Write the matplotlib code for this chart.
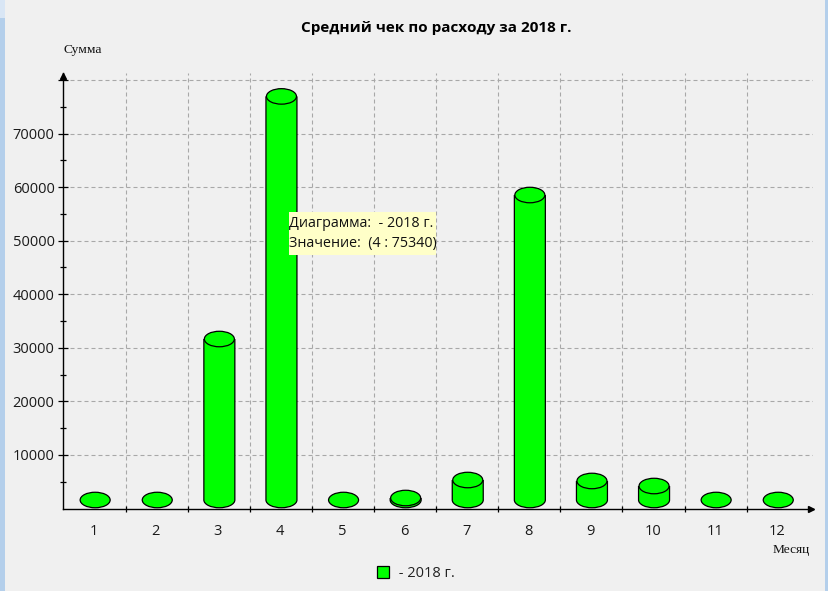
import matplotlib
matplotlib.use("Agg")
import matplotlib.pyplot as plt
from matplotlib.patches import Arc, Ellipse, Rectangle, Patch

W, H = 829, 591
months = [1, 2, 3, 4, 5, 6, 7, 8, 9, 10, 11, 12]
values = [0, 0, 30050, 75340, 0, 370, 3730, 56930, 3550, 2610, 0, 0]
series_name = " - 2018 г."
title = "Средний чек по расходу за 2018 г."
ylabel = "Сумма"
xlabel = "Месяц"
tooltip = "Диаграмма:  - 2018 г.\nЗначение:  (4 : 75340)"
yticks_major = [10000, 20000, 30000, 40000, 50000, 60000, 70000, 80000]
yticks_minor = [5000, 15000, 25000, 35000, 45000, 55000, 65000, 75000]

GREEN = "#00ff00"
BG = "#f0f0f0"
plt.rcParams["font.family"] = ["Open Sans", "DejaVu Sans"]

fig = plt.figure(figsize=(W / 100, H / 100), dpi=100, facecolor=BG)
def fx(p): return p / W
def fy(p): return 1 - p / H

# window edges
for x0, x1, y0, y1, c in [(0, 5, 0, H, "#b4cfeb"), (0, 5, 0, 18, "#d9e6f5"), (825, W, 0, H, "#b4cfeb")]:
    fig.add_artist(Rectangle((fx(x0), fy(y1)), (x1 - x0) / W, (y1 - y0) / H,
                             transform=fig.transFigure, fc=c, ec="none"))

L, R, T, B = 63.5, 813.0, 73.0, 508.5
ax = fig.add_axes([fx(L), fy(B), (R - L) / W, (B - T) / H], facecolor="none")
px_x = 62.1           # pixels per category
px_y = 53.57 / 10000  # pixels per unit
ax.set_xlim(0.5, 0.5 + (R - L) / px_x)
ax.set_ylim(0, (B - T) / px_y)

bar_w = 31 / px_x
ell_w = 30 / px_x
ell_h = 15.5 / px_y
base = 8.5 / px_y
shift = 0.6 / px_x
label_shift = -0.8 / px_x
LW = 0.9

for m, v in zip(months, values):
    c = m + shift
    if v > 0:
        ax.add_patch(Ellipse((c, base), bar_w, ell_h, fc=GREEN, ec="none", zorder=2.9))
        ax.add_patch(Rectangle((c - bar_w / 2, base), bar_w, v, fc=GREEN, ec="none", zorder=3))
        ax.add_patch(Arc((c, base), bar_w, ell_h, theta1=180, theta2=360, ec="black", lw=LW, zorder=3.1))
        for side in (-1, 1):
            ax.plot([c + side * bar_w / 2] * 2, [base, base + v], color="black", lw=LW, zorder=3.1,
                    solid_capstyle="butt", snap=False)
    ax.add_patch(Ellipse((c, base + v), ell_w, ell_h, fc=GREEN, ec="black", lw=LW, zorder=3.2))

for s in ("top", "right"):
    ax.spines[s].set_visible(False)
for s in ("left", "bottom"):
    ax.spines[s].set_linewidth(1.0)
    ax.spines[s].set_zorder(4)

ax.set_xticks([m + 0.5 for m in months[:-1]])
ax.set_xticklabels([])
ax.set_xticks([m + label_shift for m in months], labels=[str(m) for m in months], minor=True)
ax.set_yticks(yticks_major, labels=[str(v) if v < 80000 else "" for v in yticks_major])
ax.set_yticks(yticks_minor, minor=True)
ax.tick_params(axis="x", which="major", direction="inout", length=4, width=0.9, color="black")
ax.tick_params(axis="x", which="minor", length=0, pad=11, labelsize=10.5, labelcolor="#1a1a1a")
ax.tick_params(axis="y", which="major", direction="inout", length=7.2, width=0.9, pad=2.8, labelsize=10.5, labelcolor="#1a1a1a")
ax.tick_params(axis="y", which="minor", direction="inout", length=4.6, width=0.9)
ax.grid(True, which="major", color="#a8a8a8", linestyle=(0, (3.6, 2.7)), linewidth=0.8, zorder=1)
ax.set_axisbelow(True)

# axis arrows
ax.plot([0], [1 - 2.5 / (B - T)], marker="^", ms=4, color="black", transform=ax.transAxes, clip_on=False, zorder=5)
ax.plot([1 - 2 / (R - L)], [0], marker=">", ms=4, color="black", transform=ax.transAxes, clip_on=False, zorder=5)

fig.text(fx(436.5), fy(28), title, ha="center", va="center", fontsize=11, fontweight="bold", color="black")
fig.text(fx(64), fy(50), ylabel, ha="left", va="center", fontsize=9.7, family="Liberation Serif", color="#111111")
fig.text(fx(809.5), fy(549.5), xlabel, ha="right", va="center", fontsize=9.6, family="Liberation Serif", color="#111111")

# tooltip
fig.add_artist(Rectangle((fx(289), fy(255)), 147 / W, 43 / H, transform=fig.transFigure,
                         fc="#ffffc8", ec="none", zorder=10))
fig.text(fx(289), fy(233.5), tooltip, ha="left", va="center", fontsize=10.25, linespacing=1.42,
         color="#111111", zorder=11)

handle = Patch(fc=GREEN, ec="black", lw=0.9, label=series_name)
fig.legend(handles=[handle], loc="center left", bbox_to_anchor=(fx(377), fy(573.5)), frameon=False,
           fontsize=10.5, handlelength=0.85, handleheight=0.85, handletextpad=0.38,
           borderpad=0, borderaxespad=0, labelcolor="#222222")

fig.savefig("out.png", dpi=100, facecolor=BG)
